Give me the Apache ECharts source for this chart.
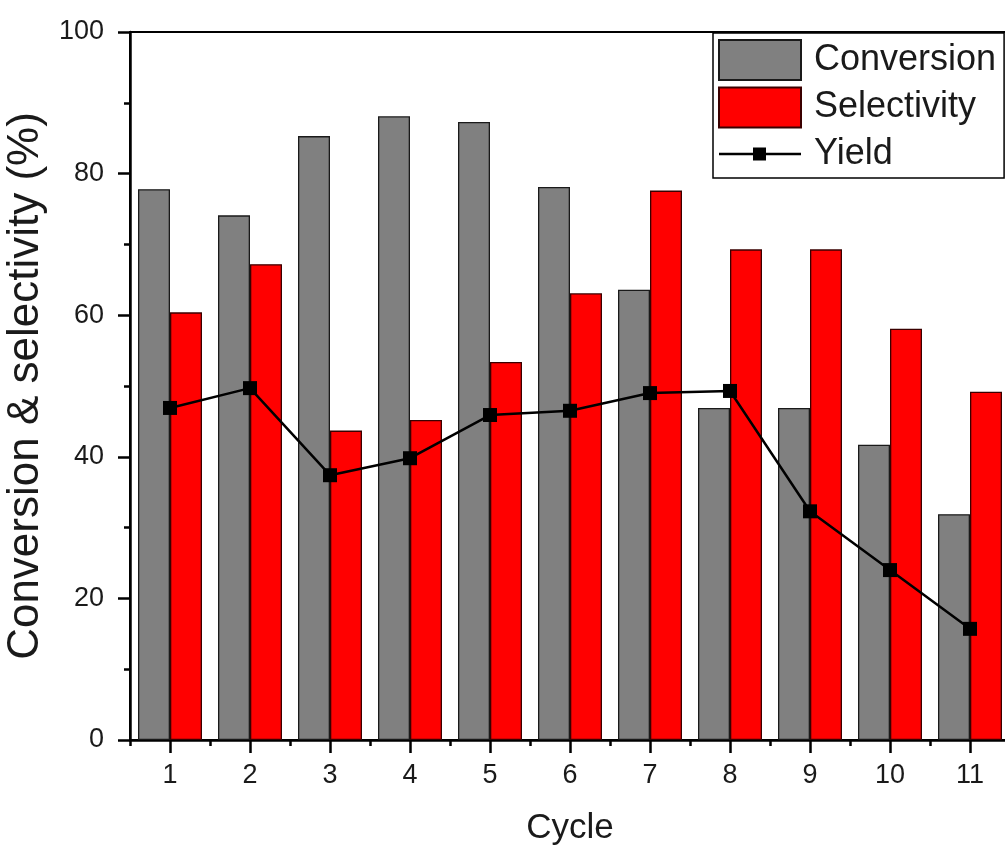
<!DOCTYPE html>
<html>
<head>
<meta charset="utf-8">
<title>Conversion, selectivity and yield per cycle</title>
<script src="https://cdn.jsdelivr.net/npm/echarts@6/dist/echarts.min.js"></script>
<style>
  html, body { margin: 0; padding: 0; background: #fff; }
  #chart { width: 1005px; height: 848px; }
</style>
</head>
<body>
<div id="chart"></div>
<script>
// Catalyst recycling results
const cycles = ['1', '2', '3', '4', '5', '6', '7', '8', '9', '10', '11'];
const conversion = [77.8, 74.1, 85.3, 88.1, 87.3, 78.1, 63.6, 46.9, 46.9, 41.7, 31.9];
const selectivity = [60.4, 67.2, 43.7, 45.2, 53.4, 63.1, 77.6, 69.3, 69.3, 58.1, 49.2];
const yieldPct = [46.9, 49.7, 37.4, 39.8, 45.9, 46.5, 49.0, 49.3, 32.3, 24.0, 15.7];
const yTicks = { min: 0, max: 100, step: 20 };

const FONT = "'Liberation Sans', Arial, sans-serif";
const INK = '#1a1a1a';

// Legend glyph for the line series: a horizontal stroke with a square marker,
// padded with empty sub-paths so the glyph keeps its proportions in an 82x40 box.
const yieldIcon = 'path://M0 0L0 0ZM82 40L82 40Z' +
  'M0 18.8L34 18.8L34 13.5L47 13.5L47 18.8L82 18.8L82 21.2L47 21.2L47 26.5L34 26.5L34 21.2L0 21.2Z';

const chart = echarts.init(document.getElementById('chart'), null, { renderer: 'canvas' });

chart.setOption({
  animation: false,
  backgroundColor: '#fff',
  textStyle: { fontFamily: FONT, color: INK },
  grid: {
    left: 130, top: 32, width: 880, height: 708,
    outerBoundsMode: 'none',
    containLabel: false,
    show: true, borderColor: '#000', borderWidth: 2, backgroundColor: 'transparent'
  },
  legend: {
    orient: 'vertical',
    left: 713, top: 33,
    itemWidth: 82, itemHeight: 40, itemGap: 5.5,
    padding: [6, 8, 4, 5],
    borderColor: '#000', borderWidth: 1.5,
    backgroundColor: '#fff',
    selectedMode: false,
    textStyle: { fontFamily: FONT, fontSize: 36, lineHeight: 36, color: INK, padding: [0, 0, 0, 8] },
    data: [
      { name: 'Conversion', icon: 'rect' },
      { name: 'Selectivity', icon: 'rect' },
      { name: 'Yield', icon: yieldIcon, itemStyle: { color: '#000', borderWidth: 0 } }
    ]
  },
  xAxis: [
    {
      type: 'category',
      data: cycles,
      position: 'bottom',
      name: 'Cycle',
      nameLocation: 'middle',
      nameGap: 71,
      nameTextStyle: { fontFamily: FONT, fontSize: 35, color: INK },
      axisLine: { show: true, lineStyle: { color: '#000', width: 2.5 } },
      axisTick: { show: true, alignWithLabel: true, length: 13, lineStyle: { color: '#000', width: 2.5 } },
      axisLabel: { fontFamily: FONT, fontSize: 27, color: INK, margin: 22 },
      splitLine: { show: false }
    },
    {
      // boundary ticks between cycles
      type: 'category',
      data: cycles,
      position: 'bottom',
      axisLine: { show: false },
      axisTick: { show: true, alignWithLabel: false, length: 6, lineStyle: { color: '#000', width: 2.5 } },
      axisLabel: { show: false },
      splitLine: { show: false }
    }
  ],
  yAxis: {
    type: 'value',
    min: yTicks.min, max: yTicks.max, interval: yTicks.step,
    name: 'Conversion & selectivity (%)',
    nameLocation: 'middle',
    nameRotate: 90,
    nameGap: 70,
    nameTextStyle: { fontFamily: FONT, fontSize: 44, color: INK },
    axisLine: { show: true, lineStyle: { color: '#000', width: 2.5 } },
    axisTick: { show: true, inside: false, length: 12, lineStyle: { color: '#000', width: 2.5 } },
    minorTick: { show: true, splitNumber: 2, length: 6, lineStyle: { color: '#000', width: 2.5 } },
    axisLabel: { fontFamily: FONT, fontSize: 27, color: INK, margin: 26 },
    splitLine: { show: false }
  },
  series: [
    {
      name: 'Conversion',
      type: 'bar',
      xAxisIndex: 0,
      data: conversion,
      barGap: '0%',
      barCategoryGap: '20%',
      itemStyle: { color: '#808080', borderColor: '#1a1a1a', borderWidth: 1.3 },
      z: 2
    },
    {
      name: 'Selectivity',
      type: 'bar',
      xAxisIndex: 0,
      data: selectivity,
      barGap: '0%',
      barCategoryGap: '20%',
      itemStyle: { color: '#ff0000', borderColor: '#3a0000', borderWidth: 1.3 },
      z: 2
    },
    {
      name: 'Yield',
      type: 'line',
      xAxisIndex: 0,
      data: yieldPct,
      symbol: 'rect',
      symbolSize: 14,
      itemStyle: { color: '#000' },
      lineStyle: { color: '#000', width: 2.5 },
      z: 5
    }
  ]
});
</script>
</body>
</html>
